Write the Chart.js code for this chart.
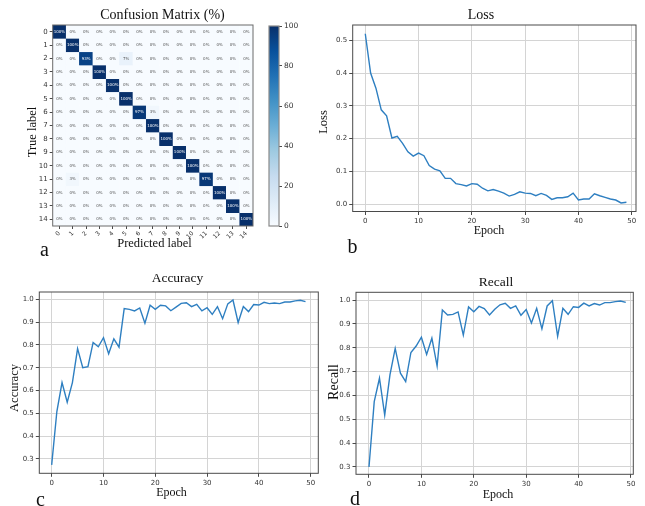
<!DOCTYPE html>
<html><head><meta charset="utf-8">
<script src="https://cdn.jsdelivr.net/npm/chart.js@4/dist/chart.umd.min.js"></script>
<style>
html,body{margin:0;padding:0;background:#fff;}
#wrap{position:relative;width:645px;height:506px;overflow:hidden;background:#fff;}
canvas{position:absolute;}
.t{position:absolute;font-family:"Liberation Serif","Times New Roman",serif;color:#111;white-space:nowrap;line-height:1;}
.h{transform:translateX(-50%);}
.v{transform:translate(-50%,-50%) rotate(-90deg);}
</style></head><body>
<div id="wrap">
<canvas id="cm"></canvas>
<canvas id="cb"></canvas>
<canvas id="loss"></canvas>
<canvas id="acc"></canvas>
<canvas id="rec"></canvas>
<div class="t h" style="left:162.5px;top:8.3px;font-size:14px">Confusion Matrix (%)</div>
<div class="t h" style="left:481px;top:8.3px;font-size:14px">Loss</div>
<div class="t h" style="left:177.5px;top:271.3px;font-size:13.5px">Accuracy</div>
<div class="t h" style="left:496px;top:275.4px;font-size:13.5px">Recall</div>
<div class="t h" style="left:489px;top:224px;font-size:12px">Epoch</div>
<div class="t h" style="left:171.5px;top:486px;font-size:12px">Epoch</div>
<div class="t h" style="left:498px;top:487.5px;font-size:12px">Epoch</div>
<div class="t h" style="left:154.5px;top:236.5px;font-size:12.5px">Predicted label</div>
<div class="t v" style="left:32px;top:131.7px;font-size:12.5px">True label</div>
<div class="t v" style="left:323px;top:122px;font-size:12.5px">Loss</div>
<div class="t v" style="left:13.5px;top:387.5px;font-size:12.5px">Accuracy</div>
<div class="t v" style="left:334px;top:382px;font-size:14px">Recall</div>
<div class="t h" style="left:44.5px;top:239.3px;font-size:20px">a</div>
<div class="t h" style="left:352.5px;top:236.3px;font-size:20px">b</div>
<div class="t h" style="left:40.5px;top:489.3px;font-size:20px">c</div>
<div class="t h" style="left:355px;top:488.3px;font-size:20px">d</div>
</div>
<script>
// ---------------- data ----------------
const classLabels = ['0','1','2','3','4','5','6','7','8','9','10','11','12','13','14'];
const confusionPct = [
  [100,0,0,0,0,0,0,0,0,0,0,0,0,0,0],
  [0,100,0,0,0,0,0,0,0,0,0,0,0,0,0],
  [0,0,93,0,0,7,0,0,0,0,0,0,0,0,0],
  [0,0,0,100,0,0,0,0,0,0,0,0,0,0,0],
  [0,0,0,0,100,0,0,0,0,0,0,0,0,0,0],
  [0,0,0,0,0,100,0,0,0,0,0,0,0,0,0],
  [0,0,0,0,0,0,97,3,0,0,0,0,0,0,0],
  [0,0,0,0,0,0,0,100,0,0,0,0,0,0,0],
  [0,0,0,0,0,0,0,0,100,0,0,0,0,0,0],
  [0,0,0,0,0,0,0,0,0,100,0,0,0,0,0],
  [0,0,0,0,0,0,0,0,0,0,100,0,0,0,0],
  [0,3,0,0,0,0,0,0,0,0,0,97,0,0,0],
  [0,0,0,0,0,0,0,0,0,0,0,0,100,0,0],
  [0,0,0,0,0,0,0,0,0,0,0,0,0,100,0],
  [0,0,0,0,0,0,0,0,0,0,0,0,0,0,100]
];
const colorbarTicks = [0,20,40,60,80,100];

const epochs = [0,1,2,3,4,5,6,7,8,9,10,11,12,13,14,15,16,17,18,19,20,21,22,23,24,25,26,27,28,29,30,31,32,33,34,35,36,37,38,39,40,41,42,43,44,45,46,47,48,49];
const lossValues = [0.52,0.40,0.354,0.288,0.27,0.202,0.207,0.186,0.16,0.147,0.156,0.148,0.118,0.107,0.102,0.079,0.079,0.063,0.060,0.056,0.063,0.061,0.049,0.041,0.045,0.040,0.034,0.025,0.030,0.038,0.034,0.033,0.026,0.033,0.027,0.015,0.020,0.020,0.023,0.034,0.013,0.016,0.016,0.032,0.026,0.021,0.016,0.013,0.004,0.006];
const accuracyValues = [0.274,0.508,0.635,0.549,0.635,0.784,0.700,0.705,0.811,0.792,0.832,0.761,0.827,0.790,0.959,0.956,0.949,0.962,0.895,0.974,0.956,0.974,0.971,0.950,0.966,0.982,0.985,0.968,0.978,0.949,0.963,0.934,0.968,0.915,0.980,0.997,0.898,0.968,0.946,0.977,0.975,0.987,0.981,0.984,0.981,0.988,0.988,0.993,0.996,0.990];
const recallValues = [0.30,0.574,0.672,0.518,0.686,0.797,0.693,0.658,0.780,0.807,0.844,0.772,0.840,0.723,0.958,0.937,0.940,0.950,0.853,0.971,0.951,0.973,0.964,0.937,0.961,0.980,0.986,0.965,0.975,0.936,0.960,0.904,0.965,0.879,0.975,0.997,0.848,0.965,0.940,0.972,0.969,0.987,0.975,0.985,0.979,0.989,0.989,0.993,0.996,0.990];
const epochTicks = [0,10,20,30,40,50];
const lossTicks = [0,0.1,0.2,0.3,0.4,0.5];
const scoreTicks = [0.3,0.4,0.5,0.6,0.7,0.8,0.9,1.0];

// ---------------- styles ----------------
const LINE = '#2e7fc1';
const GRID = '#d4d4d4';
const AXIS = '#4a4a4a';
const TICK = '#333';
const TFONT = {family:'DejaVu Sans', size:7};
const BLUES = ['#f7fbff','#deebf7','#c6dbef','#9ecae1','#6baed6','#4292c6','#2171b5','#08519c','#08306b'];
function hex(c){return [parseInt(c.substr(1,2),16),parseInt(c.substr(3,2),16),parseInt(c.substr(5,2),16)];}
function blues(t){
  t=Math.max(0,Math.min(1,t));
  const p=t*(BLUES.length-1), i=Math.min(Math.floor(p),BLUES.length-2), f=p-i;
  const a=hex(BLUES[i]), b=hex(BLUES[i+1]);
  return 'rgb('+a.map((v,k)=>Math.round(v+(b[k]-v)*f)).join(',')+')';
}

const framePlugin = {
  id:'frame',
  afterDraw(chart, args, opts){
    const a=chart.chartArea, c=chart.ctx;
    c.save(); c.strokeStyle=opts.color||AXIS; c.lineWidth=opts.width||1;
    c.strokeRect(a.left, a.top, a.right-a.left, a.bottom-a.top);
    c.restore();
  }
};

function place(cv, rect){
  cv.width=rect.w; cv.height=rect.h;
  cv.style.left=rect.x+'px'; cv.style.top=rect.y+'px';
  cv.style.width=rect.w+'px'; cv.style.height=rect.h+'px';
}

function lineChart(id, rect, plot, values, xr, yr, yTicks){
  const cv=document.getElementById(id);
  place(cv, rect);
  const padTop=plot.top-rect.y, padRight=rect.x+rect.w-plot.right;
  const yW=plot.left-rect.x, xH=rect.y+rect.h-plot.bottom;
  new Chart(cv,{
    type:'line',
    data:{datasets:[{data:epochs.map((e,i)=>({x:e,y:values[i]})),borderColor:LINE,borderWidth:1.4,pointRadius:0,tension:0,fill:false}]},
    options:{
      responsive:false, animation:false, devicePixelRatio:1,
      layout:{padding:{top:padTop,right:padRight,left:0,bottom:0}},
      plugins:{legend:{display:false},tooltip:{enabled:false},frame:{color:AXIS,width:1}},
      scales:{
        x:{type:'linear',min:xr[0],max:xr[1],
          afterBuildTicks:s=>{s.ticks=epochTicks.map(v=>({value:v}));},
          afterFit:s=>{s.height=xH;},
          grid:{color:GRID,lineWidth:1,tickColor:AXIS,tickLength:3.5},
          border:{display:false},
          ticks:{font:TFONT,color:TICK,padding:2,maxRotation:0,autoSkip:false,callback:v=>String(v)}},
        y:{type:'linear',min:yr[0],max:yr[1],
          afterBuildTicks:s=>{s.ticks=yTicks.map(v=>({value:v}));},
          afterFit:s=>{s.width=yW;},
          grid:{color:GRID,lineWidth:1,tickColor:AXIS,tickLength:3.5},
          border:{display:false},
          ticks:{font:TFONT,color:TICK,padding:2,autoSkip:false,callback:v=>Number(v).toFixed(1)}}
      }
    },
    plugins:[framePlugin]
  });
}

lineChart('loss',{x:325,y:12,w:320,h:216},{left:352.7,right:636,top:25,bottom:211.5},lossValues,[-2.36,50.8],[-0.022,0.5466],lossTicks);
lineChart('acc',{x:5,y:280,w:325,h:206},{left:39.3,right:318.3,top:292,bottom:473.3},accuracyValues,[-2.39,51.47],[0.2373,1.032],scoreTicks);
lineChart('rec',{x:330,y:280,w:313,h:206},{left:356,right:633.3,top:292.3,bottom:474.3},recallValues,[-2.48,50.44],[0.2694,1.0323],scoreTicks);

// ---------------- confusion matrix ----------------
(function(){
  const cv=document.getElementById('cm');
  const rect={x:8,y:10,w:257,h:238}, plot={left:52.7,right:253,top:25,bottom:226};
  place(cv,rect);
  const datasets=confusionPct.map((row,r)=>({
    label:'row '+r,
    data:row.map(()=>[r-0.5,r+0.5]),
    backgroundColor:row.map(v=>blues(v/100)),
    borderColor:row.map(v=>blues(v/100)),
    borderWidth:0.4,
    grouped:false, barPercentage:1, categoryPercentage:1, borderSkipped:false
  }));
  const textPlugin={
    id:'cellText',
    afterDatasetsDraw(chart){
      const c=chart.ctx, xs=chart.scales.x, ys=chart.scales.y;
      c.save(); c.font='4px "DejaVu Sans"'; c.textAlign='center'; c.textBaseline='middle';
      confusionPct.forEach((row,r)=>row.forEach((v,col)=>{
        c.fillStyle = v>50 ? '#ffffff' : '#555555';
        c.fillText(v+'%', xs.getPixelForValue(col), ys.getPixelForValue(r));
      }));
      c.restore();
    }
  };
  new Chart(cv,{
    type:'bar',
    data:{labels:classLabels,datasets},
    options:{
      responsive:false, animation:false, devicePixelRatio:1,
      layout:{padding:{top:plot.top-rect.y,right:rect.x+rect.w-plot.right,left:0,bottom:0}},
      plugins:{legend:{display:false},tooltip:{enabled:false},frame:{color:'#6a6a6a',width:1}},
      scales:{
        x:{type:'category',offset:true,
          afterFit:s=>{s.height=rect.y+rect.h-plot.bottom;},
          grid:{offset:false,drawOnChartArea:false,tickColor:AXIS,tickLength:3},
          border:{display:false},
          ticks:{font:{family:'DejaVu Sans',size:6},color:TICK,padding:1,minRotation:45,maxRotation:45,autoSkip:false}},
        y:{type:'linear',min:-0.5,max:14.5,reverse:true,
          afterBuildTicks:s=>{s.ticks=classLabels.map((l,i)=>({value:i}));},
          afterFit:s=>{s.width=plot.left-rect.x;},
          grid:{drawOnChartArea:false,tickColor:AXIS,tickLength:3},
          border:{display:false},
          ticks:{font:TFONT,color:TICK,padding:2,autoSkip:false,callback:v=>classLabels[v]}}
      }
    },
    plugins:[textPlugin,framePlugin]
  });
})();

// ---------------- colorbar ----------------
(function(){
  const cv=document.getElementById('cb');
  const rect={x:262,y:14,w:45,h:222}, plot={left:269,right:279,top:26,bottom:226};
  place(cv,rect);
  new Chart(cv,{
    type:'bar',
    data:{labels:[''],datasets:[{data:[[colorbarTicks[0],colorbarTicks[colorbarTicks.length-1]]],
      barPercentage:1,categoryPercentage:1,borderWidth:0,
      backgroundColor:(ctx)=>{
        const a=ctx.chart.chartArea; if(!a) return BLUES[4];
        const g=ctx.chart.ctx.createLinearGradient(0,a.bottom,0,a.top);
        BLUES.forEach((c,i)=>g.addColorStop(i/(BLUES.length-1),c));
        return g;
      }}]},
    options:{
      responsive:false, animation:false, devicePixelRatio:1,
      layout:{padding:{top:plot.top-rect.y,left:plot.left-rect.x,right:0,bottom:rect.y+rect.h-plot.bottom}},
      plugins:{legend:{display:false},tooltip:{enabled:false},frame:{color:'#8a8a8a',width:1.2}},
      scales:{
        x:{display:false},
        y:{position:'right',min:0,max:100,
          afterBuildTicks:s=>{s.ticks=colorbarTicks.map(v=>({value:v}));},
          afterFit:s=>{s.width=rect.x+rect.w-plot.right;},
          grid:{drawOnChartArea:false,tickColor:AXIS,tickLength:3},
          border:{display:false},
          ticks:{font:{family:'DejaVu Sans',size:7.5},color:TICK,padding:2,autoSkip:false}}
      }
    },
    plugins:[framePlugin]
  });
})();
</script>
</body></html>
